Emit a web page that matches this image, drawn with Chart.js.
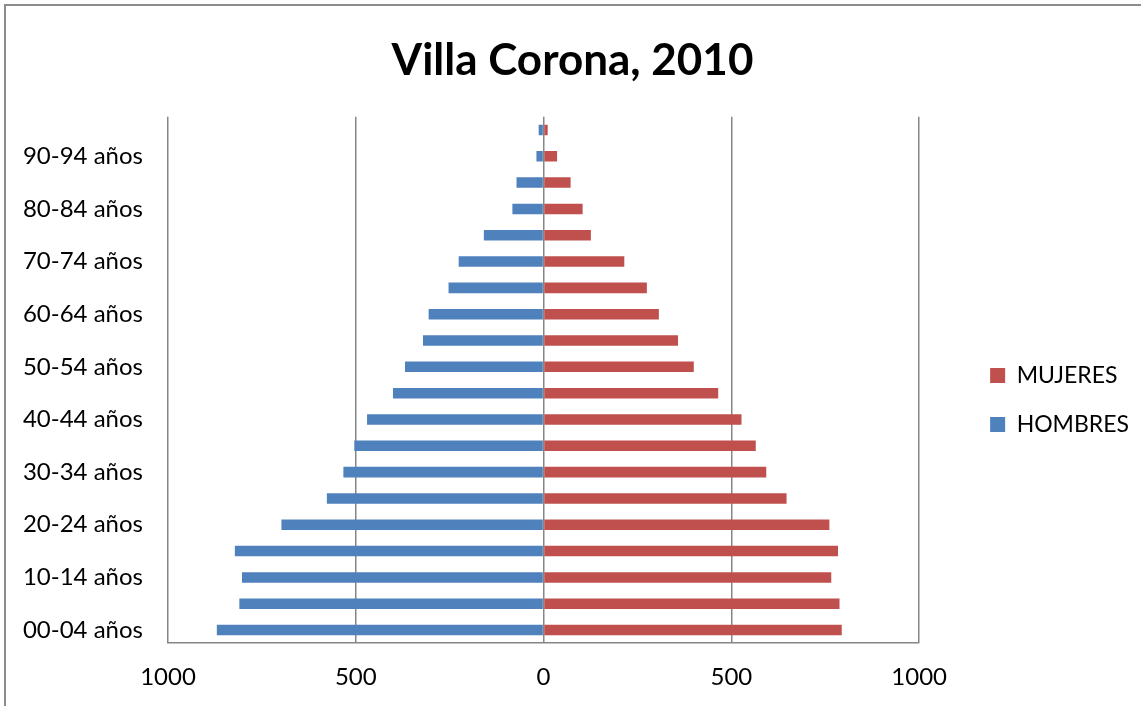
<!DOCTYPE html>
<html>
<head>
<meta charset="utf-8">
<script src="https://cdn.jsdelivr.net/npm/chart.js@4/dist/chart.umd.min.js"></script>
<style>
  html, body { margin: 0; padding: 0; background: #fff; width: 1141px; height: 706px; overflow: hidden; }
  #marco { position: absolute; left: 4px; top: 4px; width: 1135px; height: 700px; overflow: hidden;
           border-left: 2px solid #8c8c8c; border-top: 2px solid #8c8c8c; }
  #lienzo { position: absolute; left: 0; top: 0; }
</style>
</head>
<body>
<div id="marco"><canvas id="lienzo" width="1143" height="720"></canvas></div>
<script>
// Grupos de edad (de abajo hacia arriba)
const edades = [
  '00-04 años', '05-09 años', '10-14 años', '15-19 años', '20-24 años',
  '25-29 años', '30-34 años', '35-39 años', '40-44 años', '45-49 años',
  '50-54 años', '55-59 años', '60-64 años', '65-69 años', '70-74 años',
  '75-79 años', '80-84 años', '85-89 años', '90-94 años', '95-99 años'
];
// Población por sexo
const hombres = [870, 810, 803, 822, 698, 577, 533, 504, 470, 401, 369, 321, 306, 253, 226, 159, 83, 72, 19, 13];
const mujeres = [794, 788, 766, 784, 761, 647, 593, 565, 527, 465, 400, 358, 307, 275, 215, 126, 104, 72, 36, 11];
const marcasX = [-1000, -500, 0, 500, 1000];

const fuente = 'Lato, "Open Sans", sans-serif';
const gris = '#868686';

const ctx = document.getElementById('lienzo').getContext('2d');
new Chart(ctx, {
  type: 'bar',
  data: {
    labels: edades,
    datasets: [
      {
        label: 'HOMBRES',
        data: hombres.map(v => -v), // a la izquierda
        backgroundColor: '#4F81BD',
        categoryPercentage: 0.4,
        barPercentage: 1,
      },
      {
        label: 'MUJERES',
        data: mujeres,
        backgroundColor: '#C0504D',
        categoryPercentage: 0.4,
        barPercentage: 1,
      },
    ],
  },
  options: {
    indexAxis: 'y',
    responsive: false,
    animation: false,
    devicePixelRatio: 1,
    layout: { padding: { top: 0, left: 0, right: 10, bottom: 14 } },
    plugins: {
      title: {
        display: true,
        text: 'Villa Corona, 2010',
        color: '#000',
        font: { family: fuente, size: 44, weight: 'bold' },
        padding: { top: 28, bottom: 30 },
      },
      legend: {
        position: 'right',
        reverse: true,
        // título vacío: solo baja los elementos de la leyenda
        title: { display: true, text: '', font: { size: 10 }, padding: { top: 70, bottom: 0 } },
        labels: {
          color: '#000',
          font: { family: fuente, size: 23 },
          boxWidth: 15,
          boxHeight: 15,
          padding: 26,
        },
      },
      tooltip: { enabled: false },
    },
    scales: {
      x: {
        stacked: true,
        min: -1000,
        max: 1000,
        z: 1,
        afterBuildTicks: scale => { scale.ticks = marcasX.map(v => ({ value: v })); },
        ticks: {
          color: '#000',
          font: { family: fuente, size: 24 },
          padding: 20,
          maxRotation: 0,
          callback: v => Math.abs(v),
        },
        grid: { color: gris, lineWidth: 1.5, drawTicks: false },
        border: { color: gris, width: 1.5 },
      },
      y: {
        stacked: true,
        reverse: true,
        afterFit: scale => { scale.width = 162; },
        ticks: {
          color: '#000',
          font: { family: fuente, size: 24 },
          padding: 25,
          autoSkip: false,
          callback: function (v, i) { return i % 2 === 0 ? this.getLabelForValue(v) : ''; },
        },
        grid: { display: false, drawTicks: false },
        border: { display: false },
      },
      // eje vacío: deja el hueco entre el área del gráfico y la leyenda
      y2: {
        type: 'category',
        position: 'right',
        ticks: { display: false },
        grid: { display: false, drawTicks: false },
        border: { display: false },
        afterFit: scale => { scale.width = 45; },
      },
    },
  },
});
</script>
</body>
</html>
